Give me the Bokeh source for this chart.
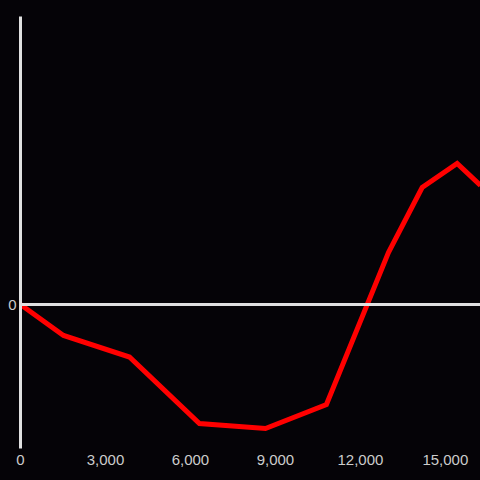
from bokeh.plotting import figure
from bokeh.models import Range1d, Span, FixedTicker, NumeralTickFormatter
from bokeh.embed import file_html
from bokeh.resources import INLINE

# data
x_values = [0, 1518, 3847, 6318, 8648, 10800, 12990, 14180, 15415, 16240]
y_values = [0, -310, -525, -1190, -1240, -1000, 520, 1170, 1410, 1190]
x_ticks = [0, 3000, 6000, 9000, 12000, 15000]
y_ticks = [0]

BG = "#050307"
p = figure(width=480, height=480, output_backend="svg", toolbar_location=None,
           x_range=Range1d(0, 16240), y_range=Range1d(-1440, 2880),
           background_fill_color=None, border_fill_color=None,
           min_border_left=20, min_border_right=0, min_border_top=16, min_border_bottom=32)
p.outline_line_color = None
p.grid.visible = False
p.styles = {"background-color": BG}

p.add_layout(Span(location=0, dimension="width", line_color="#e0e0e0", line_width=3))
p.line(x_values, y_values, line_color="#ff0000", line_width=5, line_join="miter")

xa = p.xaxis[0]
xa.ticker = FixedTicker(ticks=x_ticks)
xa.formatter = NumeralTickFormatter(format="0,0")
xa.axis_line_color = None
xa.major_tick_line_color = None
xa.minor_tick_line_color = None
xa.major_tick_out = 0
xa.major_label_standoff = 6
xa.major_label_text_color = "#cccccc"
xa.major_label_text_font = "Liberation Sans"
xa.major_label_text_font_size = "15px"

ya = p.yaxis[0]
ya.ticker = FixedTicker(ticks=y_ticks)
ya.axis_line_color = "#e0e0e0"
ya.axis_line_width = 3
ya.major_tick_line_color = None
ya.minor_tick_line_color = None
ya.major_tick_out = 0
ya.major_label_standoff = 4
ya.major_label_text_color = "#cccccc"
ya.major_label_text_font = "Liberation Sans"
ya.major_label_text_font_size = "15px"

open("out.html", "w").write(file_html(p, INLINE))
